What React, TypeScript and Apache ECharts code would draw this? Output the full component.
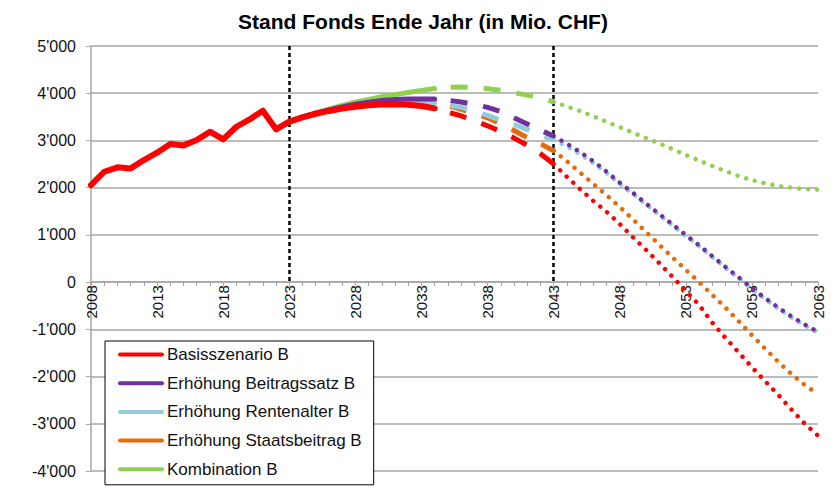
import React, { useEffect, useRef } from "react";
import * as echarts from "echarts";

const years: string[] = Array.from({ length: 56 }, (_, i) => String(2008 + i));
const yTicks = [-4000, -3000, -2000, -1000, 0, 1000, 2000, 3000, 4000, 5000];

const names = [
  "Basisszenario B",
  "Erhöhung Beitragssatz B",
  "Erhöhung Rentenalter B",
  "Erhöhung Staatsbeitrag B",
  "Kombination B",
];
const colors = ["#FF0000", "#7030A0", "#93CDDD", "#E46C0A", "#92D050"];

// Historical values 2008-2023 (Basisszenario)
const histRed = [2055, 2337, 2430, 2408, 2585, 2740, 2924, 2895, 3008, 3185, 3023, 3290, 3446, 3630, 3235, 3397];

// Solid projection 2023-2034
const solidRed = [3397, 3490, 3565, 3625, 3675, 3715, 3745, 3760, 3765, 3755, 3730, 3680];
const solidPurple = [3397, 3495, 3575, 3645, 3710, 3765, 3810, 3845, 3865, 3878, 3880, 3877];
const solidBlue = [3397, 3493, 3570, 3638, 3698, 3748, 3785, 3808, 3815, 3812, 3800, 3786];
const solidOrange = [3397, 3494, 3572, 3640, 3703, 3755, 3795, 3820, 3833, 3835, 3830, 3820];
const solidGreen = [3397, 3500, 3585, 3665, 3740, 3810, 3870, 3925, 3970, 4015, 4060, 4100];

// Dashed projection 2034-2043
const dashRed = [3680, 3600, 3520, 3420, 3310, 3190, 3050, 2900, 2720, 2500];
const dashPurple = [3877, 3850, 3815, 3760, 3700, 3610, 3480, 3350, 3220, 3093];
const dashBlue = [3786, 3750, 3700, 3620, 3530, 3430, 3340, 3230, 3120, 3008];
const dashOrange = [3820, 3740, 3660, 3570, 3480, 3350, 3210, 3060, 2930, 2782];
const dashGreen = [4100, 4125, 4130, 4120, 4095, 4060, 4010, 3960, 3895, 3820];

// Dotted projection 2043-2063
const dotRed = [2500, 2230, 1970, 1720, 1490, 1230, 950, 680, 400, 110, -190, -480, -860, -1180, -1490, -1800, -2100, -2390, -2700, -3000, -3250];
const dotPurple = [3093, 2930, 2754, 2560, 2340, 2104, 1890, 1660, 1440, 1220, 996, 780, 550, 320, 100, -130, -340, -540, -730, -900, -1053];
const dotBlue = [3008, 2870, 2710, 2520, 2310, 2080, 1865, 1640, 1420, 1200, 975, 760, 530, 300, 80, -150, -360, -560, -750, -920, -1070];
const dotOrange = [2782, 2560, 2320, 2080, 1843, 1590, 1330, 1060, 790, 520, 260, 0, -270, -540, -830, -1123, -1410, -1690, -1950, -2180, -2373];
const dotGreen = [3820, 3720, 3623, 3510, 3397, 3280, 3164, 3050, 2938, 2815, 2690, 2575, 2458, 2350, 2246, 2160, 2090, 2035, 1998, 1970, 1955];

const markerYears = ["2023", "2043"];

const seg = (start: number, vals: number[]) => vals.map((v, i) => [String(start + i), v]);

const fmt = (v: number) => {
  const s = Math.abs(v).toString().replace(/\B(?=(\d{3})+(?!\d))/g, "'");
  return (v < 0 ? "-" : "") + s;
};

const FONT = "'Liberation Sans', Arial, sans-serif";

const GRID_TOP = 46;
const GRID_BOTTOM = 25;
const H = 496;

export default function App() {
  const ref = useRef<HTMLDivElement>(null);
  useEffect(() => {
    if (!ref.current) return;
    const chart = echarts.init(ref.current, null, { renderer: "svg" });

    const yMin = yTicks[0];
    const yMax = yTicks[yTicks.length - 1];
    const plotH = H - GRID_TOP - GRID_BOTTOM;
    const zeroY = GRID_TOP + (plotH * yMax) / (yMax - yMin);
    const xOffset = -(H - GRID_BOTTOM - zeroY);

    const solid = [
      seg(2008, histRed.concat(solidRed.slice(1))),
      seg(2023, solidPurple),
      seg(2023, solidBlue),
      seg(2023, solidOrange),
      seg(2023, solidGreen),
    ];
    const dashed = [dashRed, dashPurple, dashBlue, dashOrange, dashGreen].map((d) => seg(2034, d));
    const dotted = [dotRed, dotPurple, dotBlue, dotOrange, dotGreen].map((d) => seg(2043, d));

    const zOrder = [5, 4, 3, 2, 1];

    const series: any[] = [];
    for (let k = 0; k < 5; k++) {
      series.push({
        type: "line",
        name: names[k],
        data: solid[k],
        symbol: "none",
        z: zOrder[k] + 10,
        lineStyle: { color: colors[k], width: k === 0 ? 6 : 5, cap: "round", join: "round" },
        itemStyle: { color: colors[k] },
      });
      series.push({
        type: "line",
        name: names[k],
        data: dashed[k],
        symbol: "none",
        z: zOrder[k] + 10,
        lineStyle: { color: colors[k], width: 5, type: [17, 16], dashOffset: 17, cap: "butt" },
        itemStyle: { color: colors[k] },
      });
      series.push({
        type: "line",
        name: names[k],
        data: dotted[k],
        symbol: "none",
        z: zOrder[k] + 10,
        lineStyle: { color: colors[k], width: 4.5, type: [0.01, 9], cap: "round" },
        itemStyle: { color: colors[k] },
      });
    }
    series.push({
      type: "line",
      name: "marker",
      data: [],
      symbol: "none",
      z: 30,
      markLine: {
        silent: true,
        symbol: ["none", "none"],
        label: { show: false },
        lineStyle: { color: "#000", width: 2.5, type: [4, 3] },
        data: markerYears.map((y) => [{ coord: [y, yMax] }, { coord: [y, 0] }]),
      },
    });

    chart.setOption({
      animation: false,
      backgroundColor: "#fff",
      title: {
        text: "Stand Fonds Ende Jahr (in Mio. CHF)",
        left: 418,
        textAlign: "center",
        top: 6,
        textStyle: { fontFamily: FONT, fontSize: 21, fontWeight: "bold", color: "#000" },
      },
      grid: { left: 91, right: 16, top: GRID_TOP, bottom: GRID_BOTTOM, containLabel: false, outerBoundsMode: "none" },
      xAxis: {
        type: "category",
        data: years,
        boundaryGap: false,
        offset: xOffset,
        axisLine: { onZero: false, lineStyle: { color: "#A6A6A6", width: 1.5 } },
        axisTick: { show: true, interval: 0, length: 4, lineStyle: { color: "#A6A6A6" } },
        axisLabel: {
          interval: 4,
          rotate: 90,
          margin: 3,
          fontFamily: FONT,
          fontSize: 15,
          color: "#111",
        },
        splitLine: { show: false },
      },
      yAxis: {
        type: "value",
        min: yMin,
        max: yMax,
        interval: 1000,
        axisLine: { show: true, lineStyle: { color: "#A6A6A6", width: 1.5 } },
        axisTick: { show: true, length: 5, lineStyle: { color: "#A6A6A6" } },
        axisLabel: {
          formatter: (v: number) => fmt(v),
          margin: 15,
          fontFamily: FONT,
          fontSize: 16,
          color: "#111",
        },
        splitLine: { show: true, lineStyle: { color: "#A6A6A6", width: 1.5 } },
      },
      legend: {
        data: names,
        orient: "vertical",
        left: 105,
        top: 341,
        height: 150,
        padding: [5, 12, 7, 13],
        itemWidth: 42,
        itemHeight: 14,
        itemGap: 11.7,
        borderColor: "#000",
        borderWidth: 1,
        backgroundColor: "#fff",
        lineStyle: { width: 4, cap: "round" },
        itemStyle: { opacity: 0 },
        textStyle: { fontFamily: FONT, fontSize: 17, color: "#111" },
      },
      series,
    });
    return () => chart.dispose();
  }, []);
  return (
    <div
      ref={ref}
      style={{ position: "fixed", left: 0, top: 0, width: 834, height: 496 }}
    />
  );
}
